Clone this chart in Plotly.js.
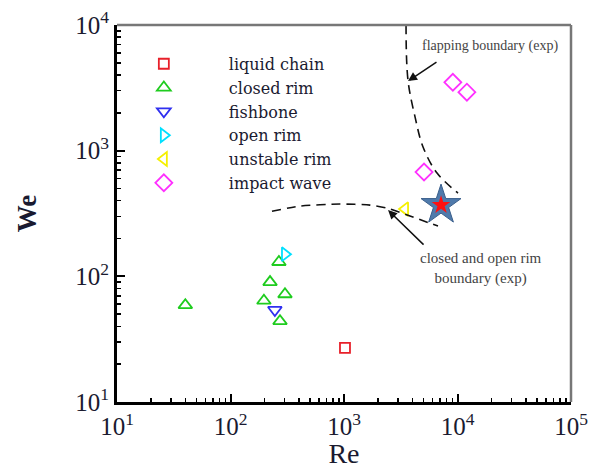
<!DOCTYPE html>
<html>
<head>
<meta charset="utf-8">
<script src="https://cdn.plot.ly/plotly-3.0.1.min.js"></script>
<style>html,body{margin:0;padding:0;background:#fff}#chart{width:595px;height:469px}</style>
</head>
<body>
<div id="chart"></div>
<script>
// Data
const liquidChainRe = [1020];
const liquidChainWe = [27];
const closedRimRe = [40, 223, 267, 197, 302, 273];
const closedRimWe = [59, 90, 130, 64, 72, 44];
const fishboneRe = [246];
const fishboneWe = [54];
const openRimRe = [302];
const openRimWe = [150];
const unstableRimRe = [3450];
const unstableRimWe = [343];
const impactWaveRe = [9100, 12100, 5070];
const impactWaveWe = [3500, 2920, 676];
const starRe = [7160];
const starWe = [369];
const flapRe = [3520, 3660, 4230, 4970, 6600, 10100];
const flapWe = [10000, 3650, 1850, 1070, 663, 460];
const rimBoundRe = [232, 409, 922, 1693, 2393, 3812, 6732];
const rimBoundWe = [330, 362, 376, 369, 349, 302, 251];
const xTickVals = [10, 100, 1000, 10000, 100000];
const xTickText = ['10<sup>1</sup>', '10<sup>2</sup>', '10<sup>3</sup>', '10<sup>4</sup>', '10<sup>5</sup>'];
const yTickVals = [10, 100, 1000, 10000];
const yTickText = ['10<sup>1</sup>', '10<sup>2</sup>', '10<sup>3</sup>', '10<sup>4</sup>'];

const serif = "Liberation Serif, Times New Roman, serif";
const wideSerif = "DejaVu Serif, serif";

const traces = [
  {x: liquidChainRe, y: liquidChainWe, name: 'liquid chain', mode: 'markers', type: 'scatter',
   marker: {symbol: 'square-open', size: 10, color: '#e8202a', line: {width: 1.8}}},
  {x: closedRimRe, y: closedRimWe, name: 'closed rim', mode: 'markers', type: 'scatter',
   marker: {symbol: 'triangle-up-open', size: 12, color: '#1fcc1f', line: {width: 1.8}}},
  {x: fishboneRe, y: fishboneWe, name: 'fishbone', mode: 'markers', type: 'scatter',
   marker: {symbol: 'triangle-down-open', size: 12, color: '#3030f0', line: {width: 1.8}}},
  {x: openRimRe, y: openRimWe, name: 'open rim', mode: 'markers', type: 'scatter',
   marker: {symbol: 'triangle-right-open', size: 12, color: '#00e0ff', line: {width: 1.8}}},
  {x: unstableRimRe, y: unstableRimWe, name: 'unstable rim', mode: 'markers', type: 'scatter',
   marker: {symbol: 'triangle-left-open', size: 12, color: '#f5f000', line: {width: 1.8}}},
  {x: impactWaveRe, y: impactWaveWe, name: 'impact wave', mode: 'markers', type: 'scatter',
   marker: {symbol: 'diamond-open', size: 13, color: '#ff30ff', line: {width: 1.8}}},
  {x: flapRe, y: flapWe, mode: 'lines', type: 'scatter', showlegend: false, line: {shape: 'spline', color: '#111', width: 1.6, dash: '9px,6px'}},
  {x: rimBoundRe, y: rimBoundWe, mode: 'lines', type: 'scatter', showlegend: false, line: {shape: 'spline', smoothing: 0.6, color: '#111', width: 1.6, dash: '9px,6px'}},
  {x: starRe, y: starWe, mode: 'markers', type: 'scatter', showlegend: false,
   marker: {symbol: 'star', size: 30, color: '#4f7aab', line: {color: '#3a5f8c', width: 1}}},
  {x: starRe, y: starWe, mode: 'markers', type: 'scatter', showlegend: false,
   marker: {symbol: 'star', size: 14, color: '#ff1010', line: {width: 0}}}
];

const axisCommon = {
  type: 'log', showgrid: false, zeroline: false,
  showline: true, linecolor: '#000', linewidth: 3,
  ticks: 'inside', ticklen: 8, tickwidth: 2, tickcolor: '#000',
  tickfont: {family: serif, size: 25, color: '#1a1a30'},
  minor: {ticks: 'inside', ticklen: 4, tickwidth: 1.5, tickcolor: '#000', dtick: 'D1', showgrid: false}
};

const layout = {
  width: 595, height: 469,
  margin: {l: 117, r: 24, t: 25, b: 67},
  paper_bgcolor: '#fff', plot_bgcolor: '#fff',
  showlegend: true,
  legend: {x: -0.04, y: 0.942, xanchor: 'left', yanchor: 'top', bgcolor: 'rgba(0,0,0,0)',
           font: {family: wideSerif, size: 16, color: '#1a1a30'}, itemwidth: 120, tracegroupgap: 0},
  xaxis: Object.assign({}, axisCommon, {
    range: [1, 5], tickvals: xTickVals, ticktext: xTickText,
    title: {text: 'Re', font: {family: serif, size: 28, color: '#1a1a30'}, standoff: 4}
  }),
  yaxis: Object.assign({}, axisCommon, {
    range: [1, 4], tickvals: yTickVals, ticktext: yTickText,
    title: {text: '<b>We</b>', font: {family: serif, size: 27, color: '#1a1a30'}, standoff: 31}
  }),
  shapes: [
    {type: 'line', xref: 'paper', yref: 'paper', x0: 0, x1: 1, y0: 1, y1: 1, line: {color: '#777', width: 2.5}},
    {type: 'line', xref: 'paper', yref: 'paper', x0: 1, x1: 1, y0: 0, y1: 1, line: {color: '#777', width: 2.5}}
  ],
  annotations: [
    {x: 3.564, y: 3.554, ax: 3.828, ay: 3.713, xref: 'x', yref: 'y', axref: 'x', ayref: 'y',
     text: '', showarrow: true, arrowhead: 2, arrowsize: 1.2, arrowwidth: 1.5, arrowcolor: '#111'},
    {x: 3.388, y: 2.527, ax: 3.714, ay: 2.241, xref: 'x', yref: 'y', axref: 'x', ayref: 'y',
     text: '', showarrow: true, arrowhead: 2, arrowsize: 1.2, arrowwidth: 1.5, arrowcolor: '#111'},
    {x: 4.286, y: 3.832, xref: 'x', yref: 'y', showarrow: false,
     text: 'flapping boundary (exp)', font: {family: serif, size: 14, color: '#444'}},
    {x: 4.207, y: 2.066, xref: 'x', yref: 'y', showarrow: false,
     text: 'closed and open rim<br>boundary (exp)', font: {family: serif, size: 15, color: '#444'}}
  ]
};

Plotly.newPlot('chart', traces, layout, {displayModeBar: false, staticPlot: true});
</script>
</body>
</html>
